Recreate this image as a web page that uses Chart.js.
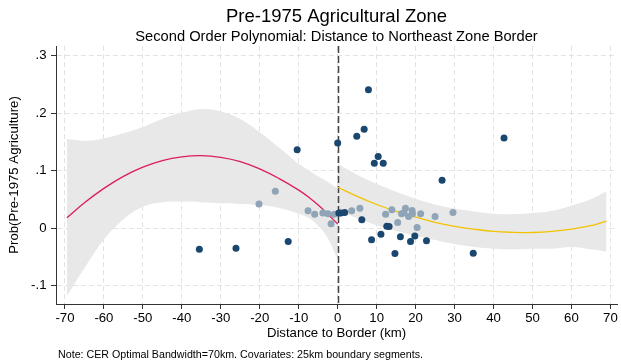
<!DOCTYPE html>
<html><head><meta charset="utf-8">
<script src="https://cdn.jsdelivr.net/npm/chart.js@4/dist/chart.umd.min.js"></script>
<style>
html,body{margin:0;padding:0;background:#fff;}
#wrap{position:relative;width:621px;height:364px;overflow:hidden;}
#note{position:absolute;left:58px;top:348px;font:10.7px "Liberation Sans",Arial,sans-serif;line-height:12px;color:#000;white-space:nowrap;}
</style>
</head><body>
<div id="wrap"><canvas id="c" width="621" height="364"></canvas><div id="note"></div></div>
<script>
const FONT = '"Liberation Sans", Arial, Helvetica, sans-serif';
const titleText = 'Pre-1975 Agricultural Zone';
const subtitleText = 'Second Order Polynomial: Distance to Northeast Zone Border';
const xTitle = 'Distance to Border (km)';
const yTitle = 'Prob(Pre-1975 Agriculture)';
const noteText = 'Note: CER Optimal Bandwidth=70km. Covariates: 25km boundary segments.';
const cutoff = 0;

const xTicks = [-70,-60,-50,-40,-30,-20,-10,0,10,20,30,40,50,60,70];
const yTicks = [-0.1,0,0.1,0.2,0.3];
const yTickLabels = ['-.1','0','.1','.2','.3'];

// dark (raw bin means)
const darkX = [-35.5,-26.1,-12.7,-10.4,0.0,7.9,6.8,4.9,10.4,9.4,11.7,42.7,26.8,34.8,0.3,0.8,1.8,6.2,8.7,11.1,12.6,13.2,14.7,16.1,18.7,19.8,22.8];
const darkY = [-0.037,-0.035,-0.0235,0.1365,0.148,0.241,0.172,0.160,0.1245,0.113,0.113,0.157,0.083,-0.044,0.026,0.026,0.027,0.0143,-0.0205,-0.0107,0.0033,0.0026,-0.0443,-0.0153,-0.0235,-0.014,-0.022];
// light (covariate-adjusted)
const lightX = [-16.0,-20.2,-7.6,-5.9,-3.8,-2.5,-0.9,-1.7,3.6,5.7,12.3,13.9,15.4,16.4,17.0,17.4,18.2,19.1,19.2,20.4,21.3,25.0,29.6];
const lightY = [0.064,0.042,0.030,0.024,0.026,0.0247,0.024,0.0073,0.030,0.0346,0.024,0.032,0.0096,0.0247,0.0264,0.0346,0.020,0.0305,0.0247,0.001,0.0247,0.020,0.027];

// left fit and band
const leftX = [-69.5,-65,-60,-55,-50,-45,-40,-35,-30,-25,-20,-15,-10,-7.5,-5,-2.5,0];
const leftFit = [0.018,0.044,0.069,0.090,0.106,0.1175,0.124,0.126,0.123,0.1156,0.103,0.086,0.066,0.054,0.040,0.024,0.007];
const leftUpper = [0.155,0.152,0.156,0.165,0.176,0.190,0.201,0.207,0.203,0.190,0.167,0.140,0.112,0.101,0.090,0.080,0.069];
const leftLower = [-0.118,-0.070,-0.020,0.015,0.037,0.045,0.046,0.045,0.043,0.042,0.040,0.035,0.025,0.018,0.004,-0.018,-0.055];

// right fit and band
const rightX = [0,5,10,15,20,25,30,35,40,45,50,55,60,65,69];
const rightFit = [0.071,0.055,0.041,0.029,0.019,0.010,0.003,-0.002,-0.006,-0.0075,-0.0078,-0.006,-0.002,0.004,0.012];
const rightUpper = [0.112,0.093,0.077,0.063,0.051,0.041,0.034,0.029,0.025,0.024,0.026,0.030,0.039,0.050,0.064];
const rightLower = [0.030,0.017,0.005,-0.005,-0.013,-0.021,-0.028,-0.033,-0.036,-0.037,-0.036,-0.036,-0.033,-0.037,-0.041];

document.getElementById('note').textContent = noteText;

const zip = (xs, ys) => xs.map((x, i) => ({x, y: ys[i]}));
const NAVY = '#1a476f', LIGHT = '#8fa4b7', BAND = '#e8e8e8', RED = '#dc1e5a', GOLD = '#f2c300';

const cutoffLine = {
  id: 'cutoffLine',
  afterDatasetDraw(chart, args) {
    if (args.index !== 4) return;
    const {ctx, chartArea, scales} = chart;
    const px = Math.round(scales.x.getPixelForValue(cutoff)) + 0.5;
    ctx.save();
    ctx.strokeStyle = '#444';
    ctx.lineWidth = 1.5;
    ctx.setLineDash([7, 3]);
    ctx.beginPath();
    ctx.moveTo(px, chartArea.top);
    ctx.lineTo(px, chartArea.bottom);
    ctx.stroke();
    ctx.restore();
  }
};

const tickFont = {family: FONT, size: 13.2};
new Chart(document.getElementById('c'), {
  type: 'scatter',
  data: {
    datasets: [
      {data: zip(darkX, darkY), backgroundColor: NAVY, borderColor: NAVY, borderWidth: 0, pointRadius: 3.5, showLine: false},
      {data: zip(lightX, lightY), backgroundColor: LIGHT, borderColor: LIGHT, borderWidth: 0, pointRadius: 3.5, showLine: false},
      {data: zip(leftX, leftFit), showLine: true, borderColor: RED, borderWidth: 1.3, pointRadius: 0, tension: 0.4, fill: false},
      {data: zip(rightX, rightFit), showLine: true, borderColor: GOLD, borderWidth: 1.3, pointRadius: 0, tension: 0.4, fill: false},
      {data: zip(leftX, leftUpper), showLine: true, borderWidth: 0, borderColor: 'rgba(0,0,0,0)', backgroundColor: BAND, pointRadius: 0, tension: 0.4, fill: '+1'},
      {data: zip(leftX, leftLower), showLine: true, borderWidth: 0, borderColor: 'rgba(0,0,0,0)', pointRadius: 0, tension: 0.4, fill: false},
      {data: zip(rightX, rightUpper), showLine: true, borderWidth: 0, borderColor: 'rgba(0,0,0,0)', backgroundColor: BAND, pointRadius: 0, tension: 0.4, fill: '+1'},
      {data: zip(rightX, rightLower), showLine: true, borderWidth: 0, borderColor: 'rgba(0,0,0,0)', pointRadius: 0, tension: 0.4, fill: false}
    ]
  },
  options: {
    responsive: false, animation: false, devicePixelRatio: 1,
    layout: {padding: {left: 0, right: -2, top: 0, bottom: 0}},
    plugins: {
      legend: {display: false}, tooltip: {enabled: false},
      title: {display: true, text: titleText, fullSize: false, color: '#000', font: {family: FONT, size: 18.5, weight: 'normal'}, padding: {top: 6, bottom: 0}},
      subtitle: {display: true, text: subtitleText, fullSize: false, color: '#000', font: {family: FONT, size: 14.7, weight: 'normal', lineHeight: 1.1}, padding: {top: 1, bottom: 0.63}}
    },
    scales: {
      x: {
        type: 'linear', min: -72.3, max: 71.7,
        afterBuildTicks: s => { s.ticks = xTicks.map(v => ({value: v})); },
        afterFit: s => { s.height = 60; s.paddingLeft = 0; s.paddingRight = 0; },
        ticks: {color: '#000', font: tickFont, padding: 1, maxRotation: 0, autoSkip: false, callback: v => String(v)},
        grid: {color: '#e3e3e3', lineWidth: 1, tickColor: '#333', tickLength: 5, tickBorderDash: []},
        border: {display: true, color: '#333', width: 1, dash: [5, 3]},
        title: {display: true, text: xTitle, color: '#000', font: {family: FONT, size: 13.2}, padding: {top: 0, bottom: 23}}
      },
      y: {
        type: 'linear', min: -0.1323, max: 0.317,
        afterBuildTicks: s => { s.ticks = yTicks.map(v => ({value: v})); },
        afterFit: s => { s.width = 56; s.paddingTop = 0; s.paddingBottom = 0; },
        ticks: {color: '#000', font: tickFont, padding: 4.5, autoSkip: false, callback: (v, i) => yTickLabels[i]},
        grid: {color: '#e3e3e3', lineWidth: 1, tickColor: '#333', tickLength: 5, tickBorderDash: []},
        border: {display: true, color: '#333', width: 1, dash: [5, 3]},
        title: {display: true, text: yTitle, color: '#000', font: {family: FONT, size: 13.2}, padding: {top: 6, bottom: 0}}
      }
    }
  },
  plugins: [cutoffLine]
});
</script>
</body></html>
